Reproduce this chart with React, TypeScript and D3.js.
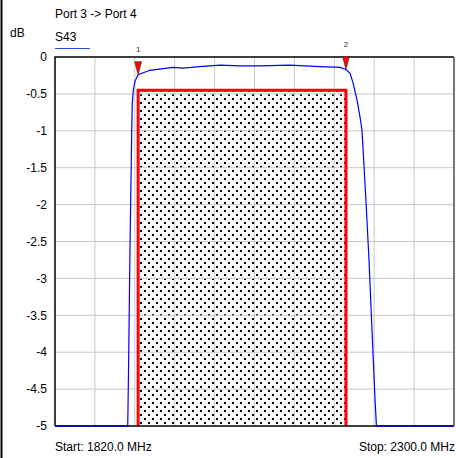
import { useEffect, useRef } from 'react'
import * as d3 from 'd3'

const W = 456, H = 458, M = { top: 57, right: 2, bottom: 32, left: 55 }

// S43 trace (MHz, dB)
const freqs = [1820, 1880, 1907.5, 1908.4, 1910.2, 1912.3, 1913, 1914.2, 1916.2, 1920,
  1934, 1962, 1974, 1994, 2018.5, 2042.6, 2066.6, 2102.7, 2138.8, 2162.9, 2170,
  2175, 2178.5, 2183.3, 2186.9, 2189.3, 2194, 2197.7, 2201.3, 2205, 2206.7, 2240, 2300]
const s43 = [-5, -5, -5, -4.3, -2.6, -1.0, -0.62, -0.45, -0.33, -0.24,
  -0.18, -0.14, -0.15, -0.13, -0.11, -0.12, -0.12, -0.11, -0.13, -0.14, -0.17,
  -0.22, -0.35, -0.58, -0.81, -0.99, -1.93, -2.74, -3.69, -4.64, -5, -5, -5]

const yTicks = [0, -0.5, -1, -1.5, -2, -2.5, -3, -3.5, -4, -4.5, -5]
const xGrid = d3.range(1820, 2300.1, 48)

// spec mask and markers
const maskBand = [1920, 2170]
const maskLevel = -0.45
const markers = [{ id: '1', f: 1920, v: -0.24 }, { id: '2', f: 2170, v: -0.17 }]

const FONT = '"Liberation Sans", Arial, sans-serif'

export default function App() {
  const svgRef = useRef<SVGSVGElement>(null)

  useEffect(() => {
    const svg = d3.select(svgRef.current!)
    svg.selectAll('*').remove()

    const iw = W - M.left - M.right
    const ih = H - M.top - M.bottom
    const x = d3.scaleLinear().domain([1820, 2300]).range([0, iw])
    const y = d3.scaleLinear().domain([-5, 0]).range([ih, 0]).clamp(true)

    // frame line on the far left
    svg.append('line').attr('x1', 1.5).attr('x2', 1.5).attr('y1', 0).attr('y2', H)
      .attr('stroke', '#000').attr('stroke-width', 2)

    const defs = svg.append('defs')
    const pat = defs.append('pattern').attr('id', 'dots')
      .attr('patternUnits', 'userSpaceOnUse').attr('width', 8).attr('height', 8)
    ;[[1, 1], [5, 5]].forEach(([px, py]) => {
      pat.append('rect').attr('x', px).attr('y', py).attr('width', 2).attr('height', 2).attr('fill', '#000')
    })

    const g = svg.append('g').attr('transform', `translate(${M.left},${M.top})`)

    // mask fill under the grid
    const mx0 = x(maskBand[0]), mx1 = x(maskBand[1]), my = y(maskLevel)
    g.append('rect').attr('x', mx0).attr('y', my).attr('width', mx1 - mx0).attr('height', ih - my)
      .attr('fill', 'url(#dots)')

    // grid
    xGrid.slice(1, -1).forEach(f => {
      g.append('line').attr('x1', x(f)).attr('x2', x(f)).attr('y1', 0).attr('y2', ih)
        .attr('stroke', '#c8c8c8').attr('stroke-width', 1)
    })
    yTicks.slice(1, -1).forEach(v => {
      g.append('line').attr('x1', 0).attr('x2', iw).attr('y1', y(v)).attr('y2', y(v))
        .attr('stroke', '#c8c8c8').attr('stroke-width', 1)
    })

    // y labels
    yTicks.forEach(v => {
      g.append('text').attr('x', -8).attr('y', y(v)).attr('dy', '0.35em')
        .attr('text-anchor', 'end').attr('font-family', FONT).attr('font-size', 12)
        .text(String(v))
    })

    // mask outline (left, top, right)
    g.append('path')
      .attr('d', `M${mx0},${ih}V${my}H${mx1}V${ih}`)
      .attr('fill', 'none').attr('stroke', '#ff0000').attr('stroke-width', 3)

    // trace
    const line = d3.line<number>().x((_, i) => x(freqs[i])).y(v => y(v))
    g.append('path').datum(s43)
      .attr('fill', 'none').attr('stroke', '#0000ff').attr('stroke-width', 1.2).attr('d', line)

    // plot border
    g.append('path').attr('d', `M0,${ih}V0H${iw}`).attr('fill', 'none').attr('stroke', '#000').attr('stroke-width', 1.5)
    g.append('line').attr('x1', 0).attr('x2', iw).attr('y1', ih).attr('y2', ih).attr('stroke', '#000').attr('stroke-width', 1.5)
    g.append('line').attr('x1', iw).attr('x2', iw).attr('y1', 0).attr('y2', ih).attr('stroke', '#777').attr('stroke-width', 2)
    g.append('path').datum(s43).attr('fill', 'none').attr('stroke', '#0000ff').attr('stroke-width', 1.2)
      .attr('d', d3.line<number>().defined(v => v <= -5).x((_, i) => x(freqs[i])).y(() => ih))

    // markers
    markers.forEach(mk => {
      const tx = x(mk.f), ty = y(mk.v)
      g.append('path').attr('d', `M${tx},${ty}L${tx - 3.5},${ty - 13}H${tx + 3.5}Z`)
        .attr('fill', '#ff0000').attr('stroke', '#333').attr('stroke-width', 0.6)
      g.append('text').attr('x', tx).attr('y', ty - 23).attr('text-anchor', 'middle')
        .attr('font-family', FONT).attr('font-size', 8).attr('fill', '#333').text(mk.id)
    })

    // titles and legend
    svg.append('text').attr('x', 55).attr('y', 18).attr('font-family', FONT).attr('font-size', 12).text('Port 3 -> Port 4')
    svg.append('text').attr('x', 10).attr('y', 37).attr('font-family', FONT).attr('font-size', 12).text('dB')
    svg.append('text').attr('x', 55).attr('y', 41).attr('font-family', FONT).attr('font-size', 12).text('S43')
    svg.append('line').attr('x1', 55).attr('x2', 90).attr('y1', 48.5).attr('y2', 48.5)
      .attr('stroke', '#3050e0').attr('stroke-width', 1)

    svg.append('text').attr('x', 55).attr('y', 451).attr('font-family', FONT).attr('font-size', 12).text('Start: 1820.0 MHz')
    svg.append('text').attr('x', 455).attr('y', 451).attr('text-anchor', 'end')
      .attr('font-family', FONT).attr('font-size', 12).text('Stop: 2300.0 MHz')
  }, [])

  return (
    <div style={{ position: 'absolute', left: 0, top: 0, width: W, height: H, background: '#fff' }}>
      <svg ref={svgRef} width={W} height={H} style={{ display: 'block' }} />
    </div>
  )
}
